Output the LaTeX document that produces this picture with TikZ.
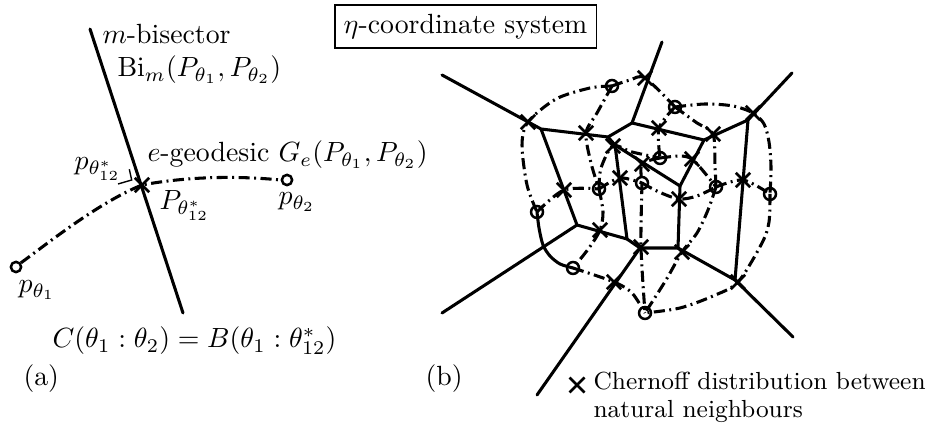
\documentclass[tikz,border=0pt]{standalone}
\usetikzlibrary{shapes.misc}
\tikzset{
  solidedge/.style={line width=1.1pt, line cap=round, line join=round},
  dd/.style={line width=1.1pt, dash pattern=on 4pt off 1.6pt on 0.7pt off 1.6pt},
  site/.style={circle, draw, line width=0.9pt, minimum size=4.3pt, inner sep=0pt},
  chern/.style={cross out, draw, line width=1pt, minimum size=4.2pt, inner sep=0pt},
  lab/.style={inner sep=0pt, anchor=base west},
}
\begin{document}
\begin{tikzpicture}[x=0.36pt,y=-0.36pt]
\useasboundingbox (0,0) rectangle (935,428);

% ---------------- panel (a)
\coordinate (btop) at (90,29);
\coordinate (bbot) at (183,313);
\draw[solidedge] (btop) -- (bbot);
\node[site, minimum size=3.7pt] (p1) at (16,267) {};
\node[site, minimum size=3.7pt] (p2) at (287,180) {};
\node[chern] (x12) at (142,185) {};
\draw[dd] (p1.40) .. controls (52,240) and (100,202) .. (x12.center)
          .. controls (190,176) and (240,176) .. (p2.west);
\draw[line width=0.5pt] (118,184) -- (131.7,180) -- (129.3,169.3);

\node[lab] (mb) at (102,44) {$m$-bisector};
\node[lab] (bi) at (117,77) {$\mathrm{Bi}_m(P_{\theta_1},P_{\theta_2})$};
\node[lab] (geo) at (147,162) {$e$-geodesic $G_e(P_{\theta_1},P_{\theta_2})$};
\node[lab] (pst) at (74,170) {$p_{\theta^*_{12}}$};
\node[lab] (Pst) at (159,210) {$P_{\theta^*_{12}}$};
\node[lab] (lp2) at (278,205) {$p_{\theta_2}$};
\node[lab] (lp1) at (18,293) {$p_{\theta_1}$};
\node[lab] (cb) at (52,348) {$C(\theta_1:\theta_2)=B(\theta_1:\theta^*_{12})$};
\node[lab] (la) at (23,386) {(a)};

% ---------------- panel (b)
\node[draw, line width=0.4pt, minimum width=94pt, minimum height=15.5pt, inner sep=0pt] (title) at (465.5,26.5) {$\eta$-coordinate system};
\node[lab] (lb) at (425,386) {(b)};

% Voronoi vertices
\coordinate (v1) at (541,129);
\coordinate (v2) at (608,137);
\coordinate (v2b) at (615,145);
\coordinate (v3) at (577,225);
\coordinate (v4) at (627,239);
\coordinate (v5) at (640,248);
\coordinate (v7) at (632,123);
\coordinate (v8) at (704,140);
\coordinate (v9) at (748,120);
\coordinate (v10) at (680,186);
\coordinate (v11) at (678,248);
\coordinate (v12) at (735,280);
\coordinate (r1) at (442,75);
\coordinate (r3) at (442,313);
\coordinate (r5) at (537,395);
\coordinate (r7) at (662,42);
\coordinate (r9) at (792,73);
\coordinate (r12) at (793,337);

\draw[solidedge] (r1) -- (v1) -- (v2) -- (v7) -- (r7);
\draw[solidedge] (v7) -- (v8) -- (v9) -- (r9);
\draw[solidedge] (v9) -- (v12) -- (r12);
\draw[solidedge] (v12) -- (v11) -- (v10) -- (v8);
\draw[solidedge] (v10) -- (v2b) -- (v2);
\draw[solidedge] (v2b) -- (v4) -- (v3) -- (v1);
\draw[solidedge] (v3) -- (r3);
\draw[solidedge] (v4) -- (v5) -- (v11);
\draw[solidedge] (v5) -- (r5);

% sites
\node[site] (s1) at (612,86) {};
\node[site] (s2) at (675,107) {};
\node[site] (s3) at (537,212) {};
\node[site] (s4) at (599,189) {};
\node[site] (s5) at (573,268) {};
\node[site] (s6) at (660,158) {};
\node[site] (s7) at (642,183) {};
\node[site] (s8) at (716,187) {};
\node[site] (s9) at (770,194) {};
\node[site] (s10) at (645,313) {};

% Chernoff points
\node[chern] (c1) at (528,122) {};
\node[chern] (c2) at (586,133) {};
\node[chern] (c3) at (613,146) {};
\node[chern] (c4) at (659,128) {};
\node[chern] (c5) at (713,134) {};
\node[chern] (c6) at (645,78) {};
\node[chern] (c7) at (753,113) {};
\node[chern] (c8) at (564,190) {};
\node[chern] (c9) at (620,178) {};
\node[chern] (c10) at (642,164) {};
\node[chern] (c11) at (692,159) {};
\node[chern] (c12) at (679,199) {};
\node[chern] (c13) at (743,180) {};
\node[chern] (c14) at (600,230) {};
\node[chern] (c15) at (641,247) {};
\node[chern] (c16) at (682,252) {};
\node[chern] (c17) at (738,282) {};
\node[chern] (c18) at (614,282) {};

% geodesics
\draw[dd] plot[smooth] coordinates {(s1.center) (590,88) (556,99) (c1.center) (522,145) (527,185) (s3.center)};
\draw[dd] plot[smooth] coordinates {(s1.center) (597,113) (c2.center) (591,163) (s4.center)};
\draw[dd] plot[smooth] coordinates {(s1.center) (630,80) (c6.center) (s2.center)};
\draw[dd] plot[smooth] coordinates {(s2.center) (c4.center) (s6.center)};
\draw[dd] plot[smooth] coordinates {(s2.center) (697,123) (c5.center) (715,166) (s8.center)};
\draw[dd] plot[smooth] coordinates {(s2.center) (705,104) (733,106) (c7.center) (764,124) (769,142) (771,167) (s9.center)};
\draw[solidedge] plot[smooth] coordinates {(s3.center) (539,228) (543,245) (550,256) (560,264) (s5.center)};
\draw[dd] plot[smooth] coordinates {(s3.center) (c8.center) (s4.center)};
\draw[dd] plot[smooth] coordinates {(s4.center) (601,168) (c3.center) (632,152) (s6.center)};
\draw[dd] plot[smooth] coordinates {(s4.center) (c9.center) (s7.center)};
\draw[dd] plot[smooth] coordinates {(s4.center) (603,212) (c14.center) (589,248) (s5.center)};
\draw[dd] plot[smooth] coordinates {(s6.center) (c10.center) (s7.center)};
\draw[dd] plot[smooth] coordinates {(s6.center) (680,156) (c11.center) (704,172) (s8.center)};
\draw[dd] plot[smooth] coordinates {(s7.center) (659,192) (c12.center) (697,196) (s8.center)};
\draw[dd] plot[smooth] coordinates {(s7.center) (c15.center) (s10.center)};
\draw[dd] plot[smooth] coordinates {(s5.center) (c18.center) (632,293) (s10.center)};
\draw[dd] plot[smooth] coordinates {(s8.center) (708,210) (697,233) (c16.center) (666,280) (s10.center)};
\draw[dd] plot[smooth] coordinates {(s8.center) (c13.center) (s9.center)};
\draw[dd] plot[smooth] coordinates {(s9.center) (769,222) (762,243) (c17.center) (713,296) (680,308) (s10.center)};

% legend
\node[chern, minimum size=4.4pt] (leg) at (577,385) {};
\node[lab] (leg1) at (593,390) {\fontsize{8.9}{11}\selectfont Chernoff distribution between};
\node[lab] (leg2) at (593,418) {\fontsize{8.9}{11}\selectfont natural neighbours};
\end{tikzpicture}
\end{document}
